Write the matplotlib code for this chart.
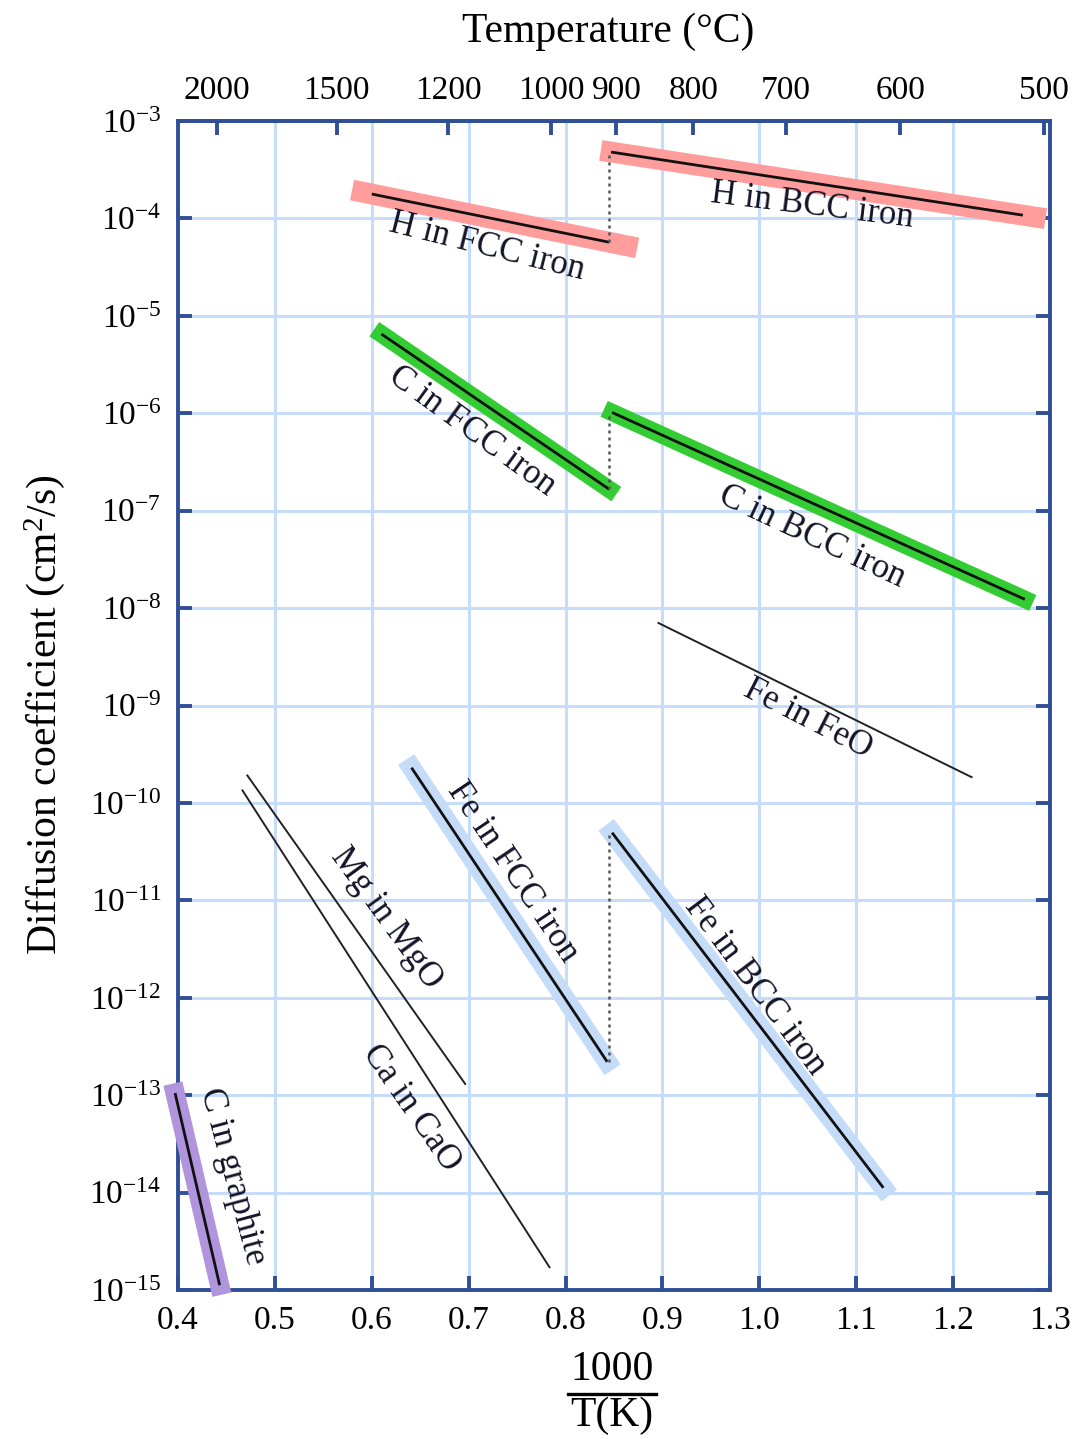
import numpy as np
import matplotlib
matplotlib.use("Agg")
import matplotlib.pyplot as plt
from matplotlib.lines import Line2D

plt.rcParams['font.family'] = ['Liberation Serif', 'DejaVu Serif']
plt.rcParams['mathtext.fontset'] = 'custom'
plt.rcParams['mathtext.rm'] = 'Liberation Serif'
plt.rcParams['mathtext.it'] = 'Liberation Serif:italic'
plt.rcParams['mathtext.bf'] = 'Liberation Serif:bold'

# ---------------- data (x = 1000/T(K), D in cm^2/s) ----------------
x_ticks = [0.4, 0.5, 0.6, 0.7, 0.8, 0.9, 1.0, 1.1, 1.2, 1.3]
x_tick_labels = ["0.4", "0.5", "0.6", "0.7", "0.8", "0.9", "1.0", "1.1", "1.2", "1.3"]
y_exponents = list(range(-15, -2))
temps_c = [2000, 1500, 1200, 1000, 900, 800, 700, 600, 500]

transition_x = 0.845

h_fcc_x = [0.600, 0.845]
h_fcc_D = [1.78e-4, 5.7e-5]
h_bcc_x = [0.847, 1.272]
h_bcc_D = [4.8e-4, 1.08e-4]
c_fcc_x = [0.610, 0.845]
c_fcc_D = [6.5e-6, 1.66e-7]
c_bcc_x = [0.848, 1.274]
c_bcc_D = [1.02e-6, 1.23e-8]
fe_feo_x = [0.895, 1.220]
fe_feo_D = [7.1e-9, 1.82e-10]
mg_mgo_x = [0.471, 0.697]
mg_mgo_D = [1.95e-10, 1.28e-13]
ca_cao_x = [0.466, 0.784]
ca_cao_D = [1.37e-10, 1.68e-15]
fe_fcc_x = [0.641, 0.843]
fe_fcc_D = [2.3e-10, 2.2e-13]
fe_bcc_x = [0.848, 1.128]
fe_bcc_D = [4.95e-11, 1.12e-14]
c_gr_x = [0.397, 0.443]
c_gr_D = [1.05e-13, 1.12e-15]

labels = ["H in FCC iron", "H in BCC iron", "C in FCC iron", "C in BCC iron",
          "Fe in FeO", "Mg in MgO", "Fe in FCC iron", "Fe in BCC iron",
          "Ca in CaO", "C in graphite"]
label_x = [0.719, 1.055, 0.703, 1.054, 1.050, 0.615, 0.745, 0.996, 0.641, 0.456]
label_D = [5.07e-5, 1.34e-4, 6.5e-7, 5.44e-8, 7.2e-10, 6.6e-12, 1.97e-11, 1.33e-12, 7.4e-14, 1.48e-14]
label_rot = [-14, -7, -36, -25, -27, -54, -56, -53, -55, -75]

# ---------------- style ----------------
spine_col = '#2f4f96'
grid_col = '#c6dcf8'
pink = '#ff9c9c'
green = '#33cc33'
lblue = '#c5dcf8'
purple = '#b094dc'

fig = plt.figure(figsize=(10.77, 14.39), dpi=100)
ax = fig.add_axes([0.16527, 0.10354, 0.80966, 0.81237])
ax.set_yscale('log')
ax.set_xlim(0.4, 1.3)
ax.set_ylim(1e-15, 1e-3)

ax.set_xticks(x_ticks)
ax.set_xticklabels(x_tick_labels)
ax.set_yticks([10.0 ** e for e in y_exponents])
ax.set_yticklabels([r'$\mathregular{10^{%d}}$' % e for e in y_exponents])
ax.minorticks_off()
ax.tick_params(axis='both', direction='in', length=10, width=2.8, color=spine_col,
               labelsize=24, top=True, right=True)
ax.tick_params(axis='x', pad=11)
ax.tick_params(axis='y', pad=12)
ax.grid(True, color=grid_col, linewidth=2.2)
ax.set_axisbelow(True)
for s in ax.spines.values():
    s.set_color(spine_col)
    s.set_linewidth(2.8)


def band(x, D, color, lw, pad=(0.0, 0.0)):
    x = np.asarray(x, float)
    ly = np.log10(D)
    dx = x[1] - x[0]
    dl = ly[1] - ly[0]
    xs = [x[0] - pad[0] * dx, x[1] + pad[1] * dx]
    ls = [ly[0] - pad[0] * dl, ly[1] + pad[1] * dl]
    ax.plot(xs, 10.0 ** np.array(ls), color=color, lw=lw, solid_capstyle='projecting',
            zorder=3, clip_on=False)


def line(x, D, lw=2.0, color='#111111'):
    ax.plot(x, D, color=color, lw=lw, solid_capstyle='butt', zorder=4, clip_on=False)


band(h_fcc_x, h_fcc_D, pink, 15, pad=(0.04, 0.075))
band(h_bcc_x, h_bcc_D, pink, 15, pad=(0.0, 0.03))
band(c_fcc_x, c_fcc_D, green, 12.5)
band(c_bcc_x, c_bcc_D, green, 12.5)
band(fe_fcc_x, fe_fcc_D, lblue, 14)
band(fe_bcc_x, fe_bcc_D, lblue, 14)
band(c_gr_x, c_gr_D, purple, 14)

for xx, dd in [(h_fcc_x, h_fcc_D), (h_bcc_x, h_bcc_D), (c_fcc_x, c_fcc_D),
               (c_bcc_x, c_bcc_D), (fe_fcc_x, fe_fcc_D), (fe_bcc_x, fe_bcc_D),
               (c_gr_x, c_gr_D)]:
    line(xx, dd, lw=2.0)
for xx, dd in [(fe_feo_x, fe_feo_D), (mg_mgo_x, mg_mgo_D), (ca_cao_x, ca_cao_D)]:
    line(xx, dd, lw=1.4, color='#222222')

# phase-transition connectors
for fcc_D, bcc_D in [(h_fcc_D, h_bcc_D), (c_fcc_D, c_bcc_D), (fe_fcc_D, fe_bcc_D)]:
    ax.plot([transition_x, transition_x], [fcc_D[-1], bcc_D[0]], ls=(0, (1.2, 1.6)),
            color='#555555', lw=1.8, zorder=4)

for t, xx, dd, r in zip(labels, label_x, label_D, label_rot):
    ax.text(xx, dd, t, fontsize=25, rotation=r, rotation_mode='anchor',
            ha='center', va='center', color='#141428', zorder=5)

# top temperature axis
tw = ax.twiny()
tw.set_xlim(ax.get_xlim())
tw.set_xticks([1000.0 / (t + 273.15) for t in temps_c])
tw.set_xticklabels([str(t) for t in temps_c])
tw.minorticks_off()
tw.tick_params(axis='x', direction='in', length=10, width=2.8, color=spine_col,
               labelsize=24, pad=11)
for k, s in tw.spines.items():
    if k == 'top':
        s.set_color(spine_col)
        s.set_linewidth(2.8)
    else:
        s.set_visible(False)

fig.text(0.5645, 0.9778, 'Temperature (°C)', fontsize=30, ha='center', va='center')
fig.text(0.0418, 0.503, r'Diffusion coefficient (cm$\mathregular{^{2}}$/s)', fontsize=30,
         rotation=90, ha='center', va='center')
fig.text(0.568, 1 - 1370 / 1439, '1000', fontsize=30, ha='center', va='center')
fig.text(0.568, 1 - 1416 / 1439, 'T(K)', fontsize=30, ha='center', va='center')
fig.add_artist(Line2D([568 / 1077, 656 / 1077], [1 - 1394 / 1439, 1 - 1394 / 1439],
                      color='black', lw=2.4, transform=fig.transFigure))

fig.savefig('out.png', dpi=100)
